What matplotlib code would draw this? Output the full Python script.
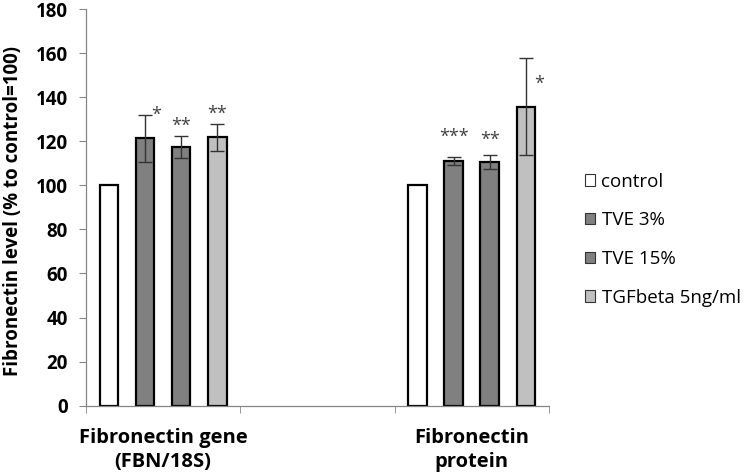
"""
Fibronectin level relative to control (control = 100), gene and protein.
"""

import numpy as np
import matplotlib.pyplot as plt
from matplotlib.patches import Patch

plt.rcParams["font.family"] = ["Open Sans", "DejaVu Sans"]

groups = ["Fibronectin gene\n(FBN/18S)", "Fibronectin\nprotein"]
series = ["control", "TVE 3%", "TVE 15%", "TGFbeta 5ng/ml"]

gene_vals = [100, 121.3, 117.4, 121.7]
gene_err = [0, 10.5, 5.0, 6.0]
protein_vals = [100, 111.2, 110.5, 135.6]
protein_err = [0, 1.8, 3.3, 22.0]

gene_stars = ["", "*", "**", "**"]
protein_stars = ["", "***", "**", "*"]

colors = ["#ffffff", "#808080", "#808080", "#c0c0c0"]

values = np.array([gene_vals, protein_vals])
errors = np.array([gene_err, protein_err])
stars = [gene_stars, protein_stars]

# where each star label sits relative to the top of its error bar (points)
star_offsets = [[None, (8.3, 0), (0, 7), (0, 7.6)],
                [None, (0, 14), (0, 11), (9.4, -18)]]

fig = plt.figure(figsize=(7.5, 4.75), dpi=100)
ax = fig.add_axes([0.1147, 0.146, 0.617, 0.835])

group_pos = np.array([0, 2])
width = 0.12
offsets = np.array([-1.5, -0.5, 0.5, 1.5]) * 0.234

for i, name in enumerate(series):
    x = group_pos + offsets[i]
    ax.bar(x, values[:, i], width, color=colors[i], edgecolor="black",
           linewidth=1.6, zorder=2, label=name)
    has_err = errors[:, i] > 0
    ax.errorbar(x[has_err], values[has_err, i], yerr=errors[has_err, i],
                fmt="none", ecolor="#333333", elinewidth=1.0, capsize=5,
                capthick=1.0, zorder=3)

for g in range(2):
    for i in range(4):
        s = stars[g][i]
        if not s:
            continue
        x = group_pos[g] + offsets[i]
        top = values[g, i] + errors[g, i]
        ax.annotate(s, (x, top), xytext=star_offsets[g][i],
                    textcoords="offset points", ha="center", va="center",
                    fontsize=13, color="#404040")

ax.set_xlim(-0.5, 2.5)
ax.set_ylim(0, 180)
ax.set_yticks(np.arange(0, 181, 20))
ax.set_yticklabels([str(v) for v in range(0, 181, 20)], fontweight="bold",
                   fontsize=13.5)
ax.set_xticks(group_pos)
ax.set_xticklabels(groups, fontweight="bold", fontsize=14.5, linespacing=1.25)
ax.set_xticks([-0.5, 0.5, 1.5, 2.5], minor=True)
ax.tick_params(axis="x", which="major", length=0, pad=16)
ax.tick_params(axis="x", which="minor", length=5, color="#868686")
ax.tick_params(axis="y", length=5, color="#868686", pad=8)

ax.set_ylabel("Fibronectin level (% to control=100)", fontweight="bold",
              fontsize=13.5)
ax.yaxis.set_label_coords(-0.137, 0.49)

for side in ["top", "right"]:
    ax.spines[side].set_visible(False)
for side in ["left", "bottom"]:
    ax.spines[side].set_color("#868686")
    ax.spines[side].set_linewidth(0.9)

handles = [Patch(facecolor=c, edgecolor="#333333", linewidth=0.8)
           for c in colors]
fig.legend(handles, series, loc="upper left", bbox_to_anchor=(0.757, 0.672),
           frameon=False, fontsize=13.5, handlelength=0.55, handleheight=0.55,
           handletextpad=0.35, labelspacing=1.1)

fig.savefig("out.png", dpi=100)
